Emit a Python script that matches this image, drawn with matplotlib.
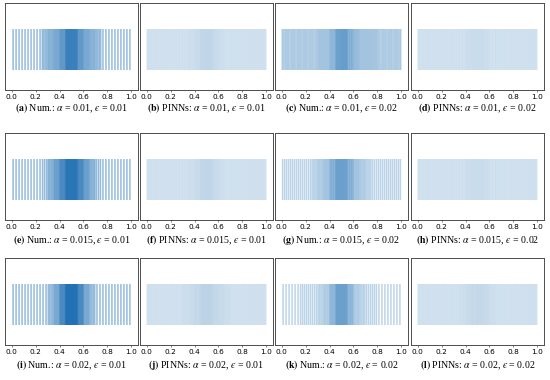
import numpy as np
import matplotlib
matplotlib.use("Agg")
import matplotlib.pyplot as plt

plt.rcParams['font.family'] = ['Liberation Serif', 'DejaVu Serif']
plt.rcParams['mathtext.fontset'] = 'stix'

# ---- data: node counts per bin of width 0.05 over [0, 1] ----
bin_edges = [round(0.05 * k, 2) for k in range(21)]

counts_a = [2, 2, 2, 2, 2, 4, 5, 6, 8, 14, 14, 8, 6, 5, 4, 2, 2, 2, 2, 2]
counts_b = [10, 10, 10, 10, 10, 10, 10, 11, 12, 14, 14, 12, 11, 10, 10, 10, 10, 10, 10, 10]
counts_c = [5, 5, 5, 5, 5, 5, 6, 6, 8, 12, 13, 9, 7, 6, 6, 6, 5, 5, 5, 5]
counts_d = [10, 10, 10, 10, 10, 10, 10, 10, 11, 12, 12, 11, 10, 10, 10, 10, 10, 10, 10, 10]
counts_e = [2, 2, 2, 2, 2, 3, 5, 7, 11, 20, 20, 11, 7, 5, 3, 2, 2, 2, 2, 2]
counts_f = [10, 10, 10, 10, 10, 10, 10, 11, 12, 14, 14, 12, 11, 10, 10, 10, 10, 10, 10, 10]
counts_g = [3, 3, 3, 3, 3, 4, 5, 6, 9, 12, 12, 9, 6, 5, 4, 3, 3, 3, 3, 3]
counts_h = [10, 10, 10, 10, 10, 10, 10, 10, 11, 12, 12, 11, 10, 10, 10, 10, 10, 10, 10, 10]
counts_i = [2, 2, 2, 2, 2, 2, 4, 6, 11, 26, 26, 11, 6, 4, 2, 2, 2, 2, 2, 2]
counts_j = [10, 10, 10, 10, 10, 10, 11, 12, 13, 15, 15, 13, 12, 11, 10, 10, 10, 10, 10, 10]
counts_k = [2, 2, 2, 3, 3, 3, 4, 5, 8, 12, 12, 8, 5, 4, 3, 3, 2, 2, 2, 2]
counts_l = [10, 10, 10, 10, 10, 10, 10, 11, 12, 13, 13, 12, 11, 10, 10, 10, 10, 10, 10, 10]

labels = ['(a)', '(b)', '(c)', '(d)', '(e)', '(f)', '(g)', '(h)', '(i)', '(j)', '(k)', '(l)']
methods = ['Num.', 'PINNs'] * 6
alphas_val = ['0.01'] * 4 + ['0.015'] * 4 + ['0.02'] * 4
eps_val = ['0.01', '0.01', '0.02', '0.02'] * 3
tick_vals = [0.0, 0.2, 0.4, 0.6, 0.8, 1.0]
tick_labels = ['0.0', '0.2', '0.4', '0.6', '0.8', '1.0']

all_counts = [counts_a, counts_b, counts_c, counts_d, counts_e, counts_f,
              counts_g, counts_h, counts_i, counts_j, counts_k, counts_l]

W, H = 550, 380
fig = plt.figure(figsize=(W / 100, H / 100), dpi=100)

col_left = [5, 140, 275, 411]
row_top = [3, 133, 258]
frame_w, frame_h = 133, 87
caption_y = [108, 240, 365]

base_color = '#2171b5'

for idx in range(12):
    r, c = divmod(idx, 4)
    left = col_left[c] / W
    bottom = 1 - (row_top[r] + frame_h) / H
    ax = fig.add_axes([left, bottom, frame_w / W, frame_h / H])
    counts = all_counts[idx]
    pos = []
    for b in range(20):
        lo, hi = bin_edges[b], bin_edges[b + 1]
        n = counts[b]
        for k in range(n):
            pos.append(lo + (k + 0.5) * (hi - lo) / n)
    if methods[idx] == 'PINNs':
        a = 0.085
    elif eps_val[idx] == '0.02':
        a = 0.3
    else:
        a = 0.48
    lc = ax.vlines(pos, 0, 1, colors=base_color, alpha=a, linewidth=1.1)
    lc.set_snap(False)
    ax.set_xlim(-0.055, 1.055)
    ax.set_ylim(-20 / 41, 1 + 26 / 41)
    ax.set_yticks([])
    ax.set_xticks(tick_vals)
    ax.set_xticklabels(tick_labels, fontfamily='DejaVu Sans', fontsize=5.3)
    ax.tick_params(axis='x', length=1.5, width=0.5, pad=1.5, color='0.3')
    for s in ax.spines.values():
        s.set_linewidth(0.7)
        s.set_color('0.3')
    cx = (col_left[c] + frame_w / 2) / W
    cy = 1 - caption_y[r] / H
    txt = (r'$\mathbf{' + labels[idx] + r'}$ ' + methods[idx] + ': '
           + r'$\alpha$ = ' + alphas_val[idx] + ', $\u03f5$ = ' + eps_val[idx])
    fig.text(cx, cy, txt, ha='center', va='center', fontsize=7.1)

fig.savefig('out.png', dpi=100)
